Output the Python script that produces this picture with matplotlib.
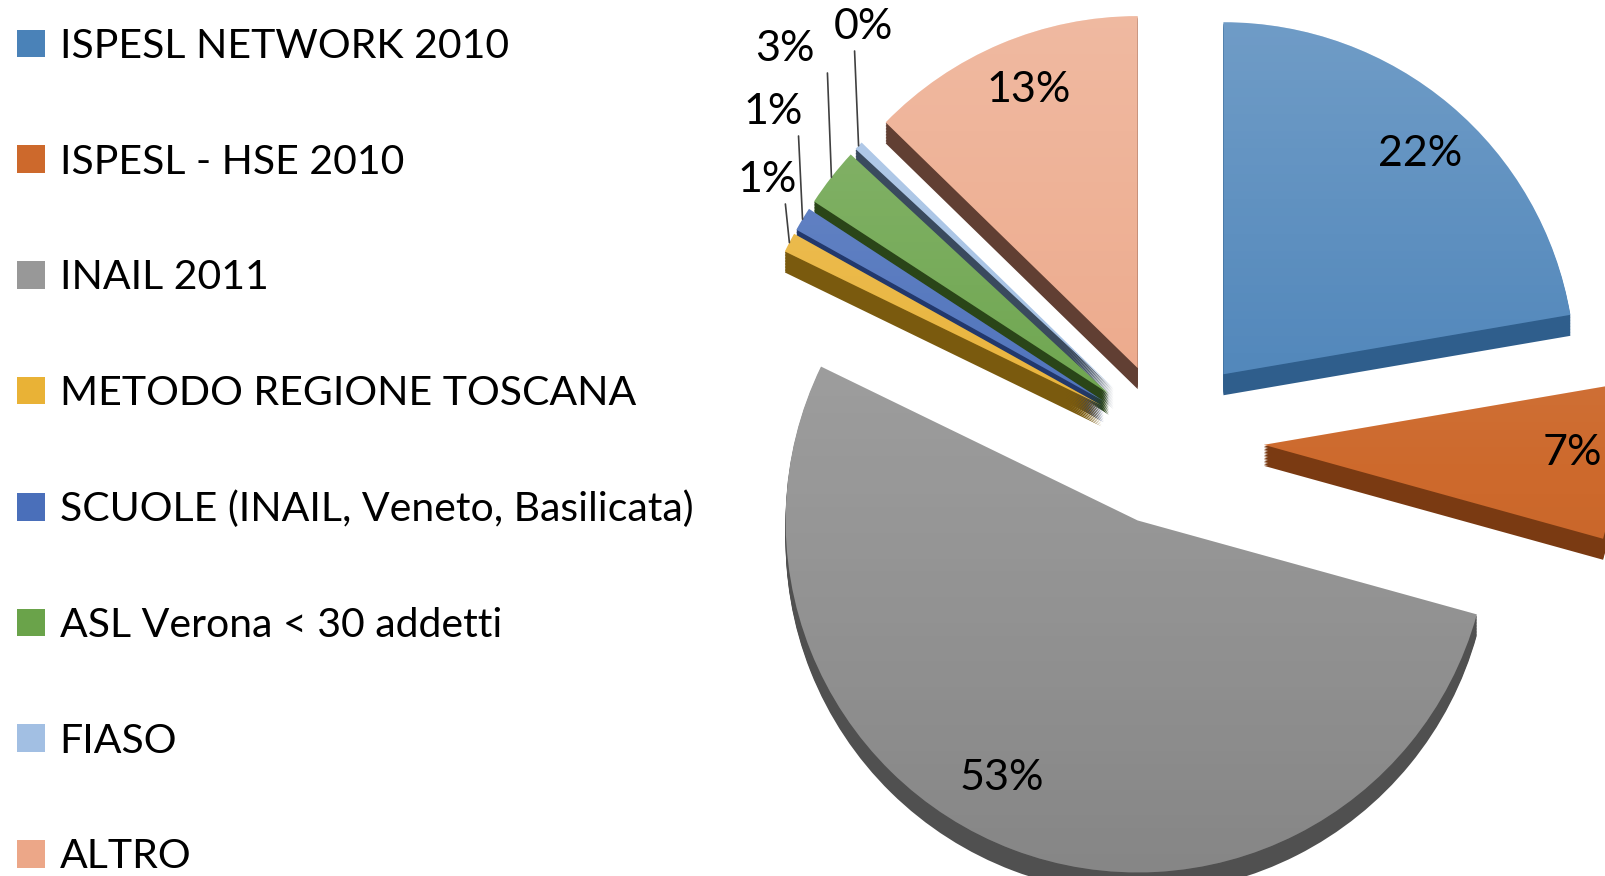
import numpy as np
import matplotlib
matplotlib.use("Agg")
import matplotlib.pyplot as plt

# ---- data ----
categories = [
    "ISPESL NETWORK 2010",
    "ISPESL - HSE 2010",
    "INAIL 2011",
    "METODO REGIONE TOSCANA",
    "SCUOLE (INAIL, Veneto, Basilicata)",
    "ASL Verona < 30 addetti",
    "FIASO",
    "ALTRO",
]
values = [22.3, 7.0, 52.9, 0.9, 1.1, 2.7, 0.4, 12.7]

# ---- styles ----
top_colors = ["#4a82b8", "#cd692c", "#989898", "#e9b236",
              "#4a6fba", "#6aa34a", "#a2bfe3", "#eca788"]
side_colors = ["#2f5e8c", "#7a3a12", "#505050", "#7a5a0e",
               "#22386c", "#2a4518", "#3a4a5e", "#613f33"]
explode_px = [86, 96, 86, 75, 75, 75, 75, 78]

plt.rcParams["font.family"] = ["Lato", "DejaVu Sans"]

W, H = 1606, 876
fig = plt.figure(figsize=(W / 100, H / 100), dpi=100)
ax = fig.add_axes([0, 0, 1, 1])

cx, cy, R = 1168, H - 440, 352
depth = 21
nl = 14

# extrusion (side) layers
for k in range(nl, 0, -1):
    off = depth * k / nl
    ax.pie(values, explode=explode_px, startangle=90, counterclock=False,
           colors=side_colors, center=(cx, cy - off), radius=R,
           wedgeprops=dict(linewidth=0))

wedges, _ = ax.pie(values, explode=explode_px, startangle=90, counterclock=False,
                   colors=top_colors, center=(cx, cy), radius=R,
                   wedgeprops=dict(linewidth=0))

# soft vertical gradient on top faces
yy = np.linspace(1, 0, 256)
grad = np.zeros((256, 2, 4))
light = np.clip((yy - 0.45) / 0.55, 0, 1)
dark = np.clip((0.45 - yy) / 0.45, 0, 1)
grad[:, :, :3] = np.where(light > 0, 1.0, 0.0)[:, None, None]
grad[:, :, 3] = (0.22 * light + 0.12 * dark)[:, None]
for w in wedges:
    im = ax.imshow(grad, extent=(0, W, 0, H), aspect="auto", zorder=w.get_zorder() + 0.5,
                   interpolation="bilinear")
    im.set_clip_path(w)

ax.set_xlim(0, W)
ax.set_ylim(0, H)
ax.set_aspect("equal")
ax.axis("off")

# ---- percentage labels ----
fs = 31
inside_pos = {0: (1420, 154), 1: (1572, 453), 2: (1002, 778), 7: (1029, 90)}
outside_pos = {3: (767, 180), 4: (773, 112), 5: (785, 49), 6: (863, 27)}

for i, w in enumerate(wedges):
    txt = f"{round(values[i]):.0f}%"
    x, y = inside_pos.get(i, outside_pos.get(i))
    ax.text(x, H - y, txt, fontsize=fs, ha="center", va="center", color="black")
    if i in outside_pos:
        th = np.deg2rad((w.theta1 + w.theta2) / 2)
        tip = (w.center[0] + w.r * np.cos(th), w.center[1] + w.r * np.sin(th))
        ax.annotate("", xy=tip, xytext=(tip[0] - 4, H - y - 24),
                    arrowprops=dict(arrowstyle="-", color="#404040", lw=1.2,
                                    shrinkA=0, shrinkB=0))

# ---- legend ----
lfs = 29.5
leg = ax.legend(wedges, categories, loc="upper left",
                bbox_to_anchor=(17 / W, 1 - 28 / H), bbox_transform=fig.transFigure,
                frameon=False, fontsize=lfs, handlelength=0.68, handleheight=0.66,
                handletextpad=0.36, labelspacing=1.92, borderpad=0, borderaxespad=0)

fig.savefig("out.png", dpi=100)
